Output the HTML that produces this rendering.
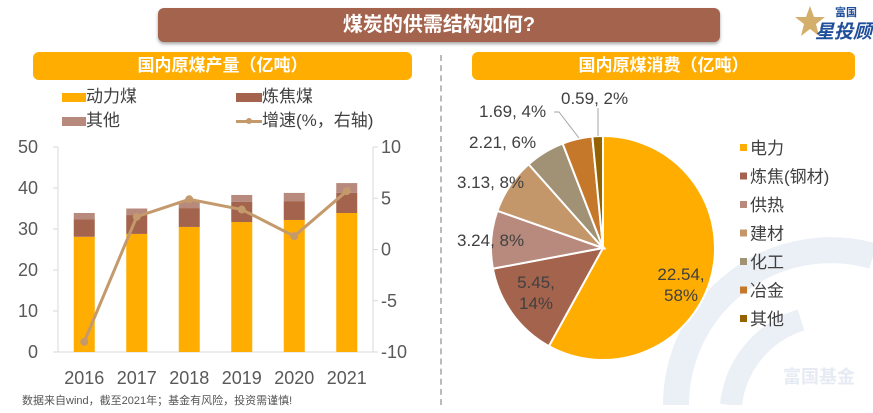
<!DOCTYPE html>
<html><head><meta charset="utf-8">
<style>
html,body{margin:0;width:873px;height:413px;overflow:hidden;}
body{background:#fff;position:relative;font-family:"Liberation Sans","Noto Sans CJK SC",sans-serif;}
.abs{position:absolute;}
.hdr{background:#ffad00;border-radius:6px;color:#fff;font-weight:bold;font-size:17px;text-align:center;line-height:28px;}
</style></head><body>
<div class="abs" style="left:158px;top:8px;width:562px;height:34px;background:#a4634c;border-radius:6px;box-shadow:0 2px 3px rgba(0,0,0,.35);color:#fff;font-weight:bold;font-size:20px;text-align:center;line-height:34px;">煤炭的供需结构如何?</div>
<div class="abs" style="left:795px;top:2px;width:78px;height:40px;">
  <svg width="30" height="36" style="position:absolute;left:0;top:2px"><polygon points="15,2 19,13 30,13 21,20 24,32 15,25 6,32 9,20 0,13 11,13" fill="#d4ae6b"/></svg>
  <span style="position:absolute;left:40px;top:2px;font-size:11px;font-weight:bold;color:#1f4f9a;">富国</span>
  <span style="position:absolute;left:20px;top:15px;font-size:19px;font-weight:bold;color:#1f4f9a;font-style:italic;">星投顾</span>
</div>
<div class="abs" style="left:440px;top:55px;height:350px;border-left:2px dashed #bbb;"></div>
<div class="abs hdr" style="left:33px;top:52px;width:379px;">国内原煤产量（亿吨）</div>
<div class="abs hdr" style="left:472px;top:52px;width:383px;">国内原煤消费（亿吨）</div>

<div class="abs" style="left:0;top:0;font-size:17px;color:#404040;">
  <div class="abs" style="left:62px;top:82px;white-space:nowrap;"><span style="display:inline-block;width:24px;height:9px;background:#ffad00;"></span>动力煤</div>
  <div class="abs" style="left:236px;top:82px;white-space:nowrap;"><span style="display:inline-block;width:26px;height:9px;background:#a4634c;"></span>炼焦煤</div>
  <div class="abs" style="left:62px;top:106px;white-space:nowrap;"><span style="display:inline-block;width:24px;height:9px;background:#b78a7d;"></span>其他</div>
  <div class="abs" style="left:236px;top:106px;white-space:nowrap;"><span style="display:inline-block;width:26px;height:3px;background:#c49a6c;vertical-align:middle;position:relative;"><span style="position:absolute;left:10px;top:-2px;width:6px;height:6px;border-radius:50%;background:#c49a6c;"></span></span>增速(%，右轴)</div>
</div>

<svg id="bar" class="abs" style="left:0;top:0" width="440" height="392"></svg>
<svg id="pie" class="abs" style="left:441px;top:80px" width="432" height="325">
  <g opacity="0.45">
    <path d="M235,325 A155,155 0 0 1 432,176" fill="none" stroke="#d3dcec" stroke-width="26"/>
    <path d="M290,325 A100,100 0 0 1 360,240" fill="none" stroke="#d3dcec" stroke-width="22"/>
    <text x="378" y="303" font-size="18" font-weight="bold" fill="#c8d3e6" text-anchor="middle">富国基金</text>
  </g>
</svg>
<div class="abs" style="left:22px;top:395px;font-size:11px;line-height:13px;color:#555;white-space:nowrap;">数据来自wind，截至2021年；基金有风险，投资需谨慎!</div>

<script>
const years=["2016","2017","2018","2019","2020","2021"];
const thermal=[28.1,28.8,30.5,31.7,32.2,33.9];
const coking=[4.3,4.6,4.6,4.9,4.6,4.9];
const other=[1.5,1.6,1.7,1.7,2.0,2.4];
const growth=[-9.0,3.2,4.9,3.9,1.3,5.7];
const leftTicks=[0,10,20,30,40,50];
const rightTicks=[-10,-5,0,5,10];

const pieLabels=["电力","炼焦(钢材)","供热","建材","化工","冶金","其他"];
const pieValues=[22.54,5.45,3.24,3.13,2.21,1.69,0.59];
const pieText=["22.54,|58%","5.45,|14%","3.24, 8%","3.13, 8%","2.21, 6%","1.69, 4%","0.59, 2%"];

const NS="http://www.w3.org/2000/svg";
function mk(p,tag,attrs){const e=document.createElementNS(NS,tag);for(const k in attrs)e.setAttribute(k,attrs[k]);p.appendChild(e);return e;}

const bs=document.getElementById('bar');
const x0=58,x1=373,yT=147,yB=352;
const yL=v=>yB-(v/50)*(yB-yT);
const yR=v=>yB-((v+10)/20)*(yB-yT);
const band=(x1-x0)/years.length;
const xc=i=>x0+band*(i+0.5);
let e;
e=mk(bs,'line',{x1:x0,y1:yT,x2:x0,y2:yB,stroke:'#d9d9d9'});


e=mk(bs,'line',{x1:x1,y1:yT,x2:x1,y2:yB,stroke:'#d9d9d9'});


e=mk(bs,'line',{x1:x0-5,y1:yB,x2:x1+5,y2:yB,stroke:'#d9d9d9'});


leftTicks.forEach(t=>{
  mk(bs,'line',{x1:x0-5,x2:x0,y1:yL(t),y2:yL(t),stroke:'#d9d9d9'});
  e=mk(bs,'text',{x:38,y:yL(t)+6,'text-anchor':'end','font-size':18,fill:'#595959'});e.textContent=t;
  
  
});
rightTicks.forEach(t=>{
  mk(bs,'line',{x1:x1,x2:x1+5,y1:yR(t),y2:yR(t),stroke:'#d9d9d9'});
  e=mk(bs,'text',{x:381,y:yR(t)+6,'font-size':18,fill:'#595959'});e.textContent=t;
  
  
});
years.forEach((y,i)=>{
  const bw=21,bx=xc(i)-bw/2;
  let base=0;
  [[thermal,'#ffad00','bar-thermal'],[coking,'#a4634c','bar-coking'],[other,'#b78a7d','bar-other']].forEach(([arr,c,n])=>{
    const top=base+arr[i];
    e=mk(bs,'rect',{x:bx,y:yL(top),width:bw,height:yL(base)-yL(top),fill:c});
    
    
    base=top;
  });
  e=mk(bs,'text',{x:xc(i),y:384,'text-anchor':'middle','font-size':18,fill:'#595959'});e.textContent=y;
  
  
});
e=mk(bs,'polyline',{points:growth.map((v,i)=>xc(i)+','+yR(v)).join(' '),fill:'none',stroke:'#c49a6c','stroke-width':3});


growth.forEach((v,i)=>{
  e=mk(bs,'circle',{cx:xc(i),cy:yR(v),r:4,fill:'#c49a6c'});
  
  
});

const ps=document.getElementById('pie');
const colors=['#ffad00','#a4634c','#b78a7d','#c4976b','#a19275','#c6782a','#946200'];
const cx=162,cy=168,r=112;
const total=pieValues.reduce((a,b)=>a+b,0);
let ang=0;
const labelPos=[[240,200],[95,208],[16,166],[16,108],[28,68],[38,37],[120,24]];
pieValues.forEach((v,i)=>{
  const a0=ang,a1=ang+v/total*2*Math.PI;ang=a1;
  const p=a=>[cx+r*Math.sin(a),cy-r*Math.cos(a)];
  const [sx,sy]=p(a0),[ex,ey]=p(a1);
  e=mk(ps,'path',{d:`M${cx},${cy} L${sx},${sy} A${r},${r} 0 ${a1-a0>Math.PI?1:0} 1 ${ex},${ey} Z`,fill:colors[i],stroke:'#fff','stroke-width':2});
  
  
});
pieValues.forEach((v,i)=>{
  const parts=pieText[i].split('|');
  const [lx,ly]=labelPos[i];
  const t=mk(ps,'text',{x:lx,y:ly,'text-anchor':parts.length>1?'middle':'start','font-size':17,fill:'#404040'});
  
  
  parts.forEach((s,k)=>{const ts=mk(t,'tspan',{x:lx,dy:k?21:0});ts.textContent=s;});
  const ly0=(i*28.5)+68;
  const sq=mk(ps,'rect',{x:299,y:ly0-4,width:7,height:7,fill:colors[i]});
  
  
  const lt=mk(ps,'text',{x:309,y:ly0+6,'font-size':17,fill:'#404040'});lt.textContent=pieLabels[i];
  
  
});
e=mk(ps,'polyline',{points:'113,32 118,32 138,58',fill:'none',stroke:'#a6a6a6'});


e=mk(ps,'line',{x1:157,y1:28,x2:157,y2:56,stroke:'#a6a6a6'});


</script>
</body></html>
